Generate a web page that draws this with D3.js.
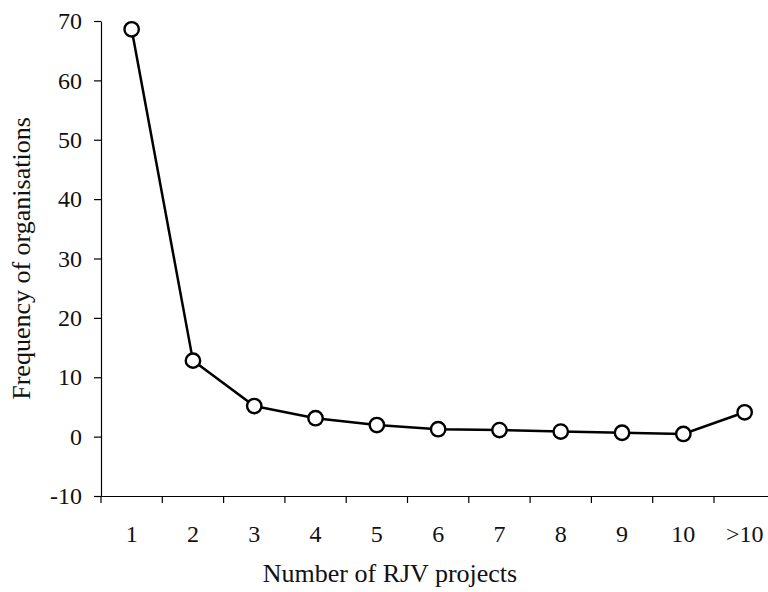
<!DOCTYPE html>
<html>
<head>
<meta charset="utf-8">
<script src="https://cdn.jsdelivr.net/npm/d3@7"></script>
<style>
  html, body { margin: 0; padding: 0; background: #fff; }
  svg { display: block; }
  text { font-family: "Liberation Serif", "Times New Roman", serif; fill: #111; }
</style>
</head>
<body>
<svg id="chart" width="768" height="592"></svg>
<script>
const categories = ["1", "2", "3", "4", "5", "6", "7", "8", "9", "10", ">10"];
const frequencies = [68.6, 12.8, 5.15, 3.1, 1.95, 1.25, 1.1, 0.85, 0.65, 0.45, 4.1];
const yTicks = [-10, 0, 10, 20, 30, 40, 50, 60, 70];
const xTitle = "Number of RJV projects";
const yTitle = "Frequency of organisations";

(function () {
const svg = d3.select("#chart");
const mLeft = 101, mRight = 775.3, mTop = 21, mBottom = 496;
const tickFont = 24, titleFont = 26;

const x = d3.scaleBand().domain(categories).range([mLeft, mRight]).padding(0);
const y = d3.scaleLinear().domain([-10, 70]).range([mBottom, mTop]);

// Y axis
const yAxis = svg.append("g")
  .attr("transform", `translate(${mLeft},0)`)
  .call(d3.axisLeft(y).tickValues(yTicks).tickFormat(d => String(d))
    .tickSize(7).tickPadding(12).tickSizeOuter(0));
yAxis.select(".domain").attr("stroke", "#000").attr("stroke-width", 1.2);
yAxis.selectAll(".tick line").attr("stroke", "#000").attr("stroke-width", 1.2);
yAxis.selectAll("text").style("font-size", tickFont + "px").attr("fill", "#111")
  .style("font-family", '"Liberation Serif", serif');

// X axis
const xAxis = svg.append("g")
  .attr("transform", `translate(0,${mBottom})`)
  .call(d3.axisBottom(x).tickSize(0).tickSizeOuter(0));
xAxis.select(".domain").attr("stroke", "#000").attr("stroke-width", 1.2);
xAxis.selectAll("text").attr("y", 46).attr("dy", null)
  .style("font-size", tickFont + "px").attr("fill", "#111")
  .style("font-family", '"Liberation Serif", serif');
xAxis.selectAll(".boundary")
  .data(categories)
  .enter().append("line")
  .attr("class", "boundary")
  .attr("x1", d => x(d)).attr("x2", d => x(d))
  .attr("y1", 0).attr("y2", 7)
  .attr("stroke", "#000").attr("stroke-width", 1.2);

// Line
const line = d3.line()
  .x((d, i) => x(categories[i]) + x.bandwidth() / 2)
  .y(d => y(d));
svg.append("path")
  .datum(frequencies)
  .attr("d", line)
  .attr("fill", "none")
  .attr("stroke", "#000")
  .attr("stroke-width", 2.5);

svg.selectAll(".pt")
  .data(frequencies)
  .enter().append("circle")
  .attr("class", "pt")
  .attr("cx", (d, i) => x(categories[i]) + x.bandwidth() / 2)
  .attr("cy", d => y(d))
  .attr("r", 7.2)
  .attr("fill", "#fff")
  .attr("stroke", "#000")
  .attr("stroke-width", 2.4);

// Titles
svg.append("text")
  .attr("x", 390).attr("y", 582)
  .attr("text-anchor", "middle")
  .style("font-size", titleFont + "px")
  .text(xTitle);

svg.append("text")
  .attr("transform", `translate(30,${(mTop + mBottom) / 2}) rotate(-90)`)
  .attr("text-anchor", "middle")
  .style("font-size", titleFont + "px")
  .text(yTitle);
})();
</script>
</body>
</html>
